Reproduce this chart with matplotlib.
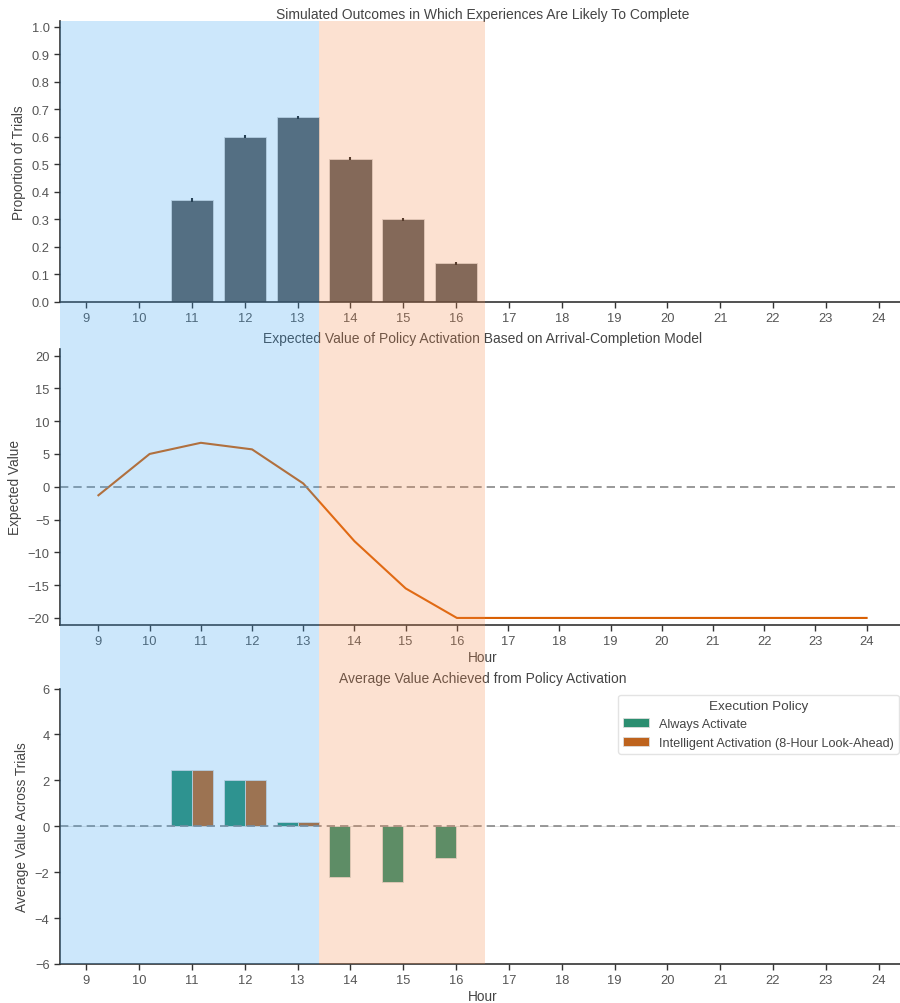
import numpy as np
import matplotlib
matplotlib.use('Agg')
import matplotlib.pyplot as plt
from matplotlib.patches import Rectangle
from matplotlib.transforms import blended_transform_factory

plt.rcParams['font.family'] = ['Liberation Sans', 'DejaVu Sans']

# data
hours = list(range(9, 25))
proportion = [0, 0, 0.37, 0.60, 0.67, 0.52, 0.30, 0.14, 0, 0, 0, 0, 0, 0, 0, 0]
proportion_err = [0, 0, 0.006, 0.006, 0.006, 0.006, 0.006, 0.005, 0, 0, 0, 0, 0, 0, 0, 0]
expected_value = [-1.3, 5.0, 6.7, 5.7, 0.5, -8.3, -15.5, -20, -20, -20, -20, -20, -20, -20, -20, -20]
always_value = [0, 0, 2.45, 2.02, 0.2, -2.2, -2.45, -1.4, 0, 0, 0, 0, 0, 0, 0, 0]
intelligent_value = [0, 0, 2.45, 2.02, 0.2, 0, 0, 0, 0, 0, 0, 0, 0, 0, 0, 0]
policy_names = ['Always Activate', 'Intelligent Activation (8-Hour Look-Ahead)']
morning_window = (8.5, 13.4)    # hours
afternoon_window = (13.4, 16.55)

bar_grey = '#5e5e5e'
teal = '#2b8e70'
orange = '#be631d'
line_orange = '#d95f02'
text_col = '#444444'
spine_col = '#333333'

W, H = 900, 1004
fig = plt.figure(figsize=(9, 10.04), dpi=100)

def axes_px(left, top, right, bottom):
    return fig.add_axes([left / W, 1 - bottom / H, (right - left) / W, (bottom - top) / H])

ax1 = axes_px(60, 22, 905, 303)
ax2 = axes_px(60, 350, 905, 625.5)
ax3 = axes_px(60, 689.5, 905, 965)

idx = np.arange(len(hours))

def style(ax):
    for s in ['top', 'right']:
        ax.spines[s].set_visible(False)
    for s in ['left', 'bottom']:
        ax.spines[s].set_color(spine_col)
        ax.spines[s].set_linewidth(1.2)
    ax.tick_params(colors=spine_col, labelcolor='#555555', labelsize=9.3, length=4, width=1)

# top panel
ax1.bar(idx, proportion, width=0.8, color=bar_grey, edgecolor='#dddddd', linewidth=0.6)
ax1.errorbar(idx[2:8], proportion[2:8], yerr=proportion_err[2:8], fmt='none',
             ecolor='#222222', elinewidth=1.5)
ax1.set_xlim(-0.5, len(hours) - 0.5)
ax1.set_ylim(0, 1.02)
ax1.set_yticks(np.arange(0, 1.01, 0.1))
ax1.set_yticklabels(['%.1f' % v for v in np.arange(0, 1.01, 0.1)])
ax1.set_xticks(idx)
ax1.set_xticklabels(hours)
ax1.set_ylabel('Proportion of Trials', fontsize=9.8, color=text_col)
ax1.set_title('Simulated Outcomes in Which Experiences Are Likely To Complete',
              fontsize=10, color=text_col, pad=1)
style(ax1)

# middle panel
ax2.plot(hours, expected_value, color=line_orange, lw=1.5)
ax2.axhline(0, color='#888888', ls='--', lw=1.2, dashes=(5, 3))
ax2.set_xlim(hours[0] - 0.75, hours[-1] + 0.75)
ax2.set_ylim(-21, 21)
ax2.set_yticks(range(-20, 21, 5))
ax2.set_xticks(hours)
ax2.set_xlabel('Hour', fontsize=9.8, color=text_col, labelpad=2)
ax2.set_ylabel('Expected Value', fontsize=9.8, color=text_col)
ax2.set_title('Expected Value of Policy Activation Based on Arrival-Completion Model',
              fontsize=10, color=text_col, pad=5)
style(ax2)

# bottom panel
b1 = ax3.bar(idx - 0.2, always_value, width=0.4, color=teal, edgecolor='#dddddd', linewidth=0.6)
b2 = ax3.bar(idx + 0.2, intelligent_value, width=0.4, color=orange, edgecolor='#dddddd', linewidth=0.6)
ax3.axhline(0, color='#888888', ls='--', lw=1.2, dashes=(5, 3))
ax3.set_xlim(-0.5, len(hours) - 0.5)
ax3.set_ylim(-6, 6)
ax3.set_yticks(range(-6, 7, 2))
ax3.set_xticks(idx)
ax3.set_xticklabels(hours)
ax3.set_xlabel('Hour', fontsize=9.8, color=text_col, labelpad=2)
ax3.set_ylabel('Average Value Across Trials', fontsize=9.8, color=text_col)
ax3.set_title('Average Value Achieved from Policy Activation', fontsize=10, color=text_col, pad=5)
leg = ax3.legend([b1, b2], policy_names, title='Execution Policy', loc='upper right',
                 fontsize=9.1, title_fontsize=9.7, frameon=True, borderaxespad=0.5)
leg.get_frame().set_edgecolor('#dddddd')
for t in leg.get_texts():
    t.set_color(text_col)
leg.get_title().set_color(text_col)
style(ax3)

# shaded windows across all panels
trans = blended_transform_factory(ax1.transData, fig.transFigure)
y_bot = ax3.get_position().y0
y_top = ax1.get_position().y1
for (h0, h1), col in [(morning_window, '#37a3f3'), (afternoon_window, '#f78b4b')]:
    x0 = h0 - hours[0]
    x1 = h1 - hours[0]
    fig.add_artist(Rectangle((x0, y_bot), x1 - x0, y_top - y_bot, transform=trans,
                             facecolor=col, alpha=0.25, edgecolor='none', zorder=5))

fig.savefig('out.png', dpi=100)
